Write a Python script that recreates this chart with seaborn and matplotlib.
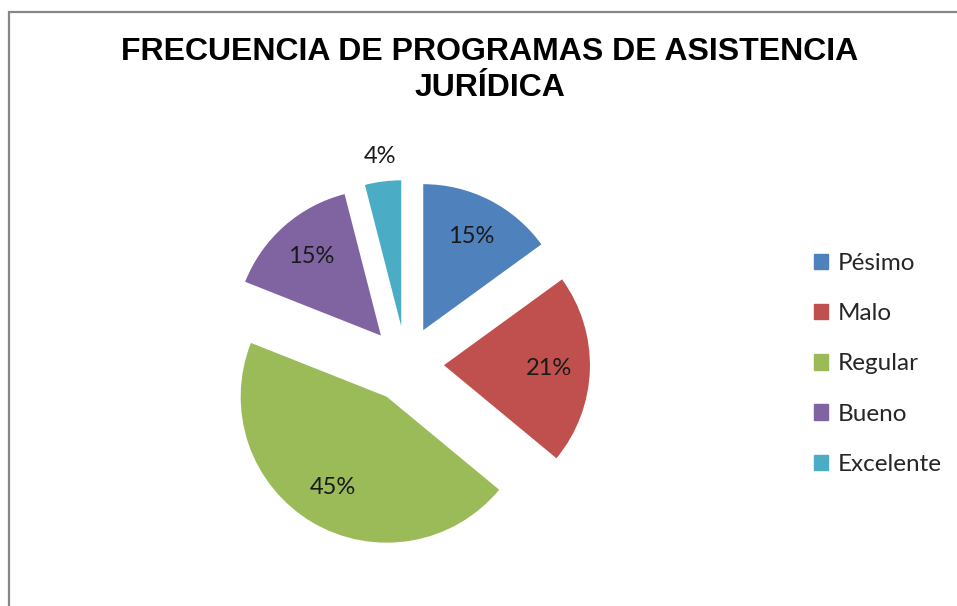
"""Gráfico circular: frecuencia de programas de asistencia jurídica."""

import matplotlib

matplotlib.use("Agg")
import matplotlib.pyplot as plt
import numpy as np
import seaborn as sns
from matplotlib.patches import Rectangle

CATEGORIES = ["Pésimo", "Malo", "Regular", "Bueno", "Excelente"]
PERCENTS = [15, 21, 45, 15, 4]
COLORS = ["#4F81BD", "#C0504D", "#9BBB59", "#8064A2", "#4BACC6"]
TITLE = "FRECUENCIA DE PROGRAMAS DE ASISTENCIA\nJURÍDICA"

W, H = 957, 606
R_PX = 146          # radio del círculo en píxeles
CX, CY = 406, 364   # centro (desde arriba)
LIM = 1.6

sns.set_theme(style="white")
plt.rcParams["font.family"] = ["Lato", "DejaVu Sans"]

fig = plt.figure(figsize=(W / 100, H / 100), dpi=100)
fig.patch.set_facecolor("white")

side = 2 * LIM * R_PX
ax = fig.add_axes([(CX - side / 2) / W, (H - CY - side / 2) / H, side / W, side / H])

wedges, autotexts = ax.pie(
    PERCENTS,
    colors=COLORS,
    explode=[0.26] * len(PERCENTS),
    startangle=90,
    counterclock=False,
    autopct=lambda p: f"{p:.0f}%",
    pctdistance=0.72,
    textprops={"fontsize": 17, "color": "#1a1a1a"},
    wedgeprops={"linewidth": 0},
)[::2]
ax.set_xlim(-LIM, LIM)
ax.set_ylim(-LIM, LIM)
ax.set_aspect("equal")
ax.axis("off")

# la porción pequeña lleva su etiqueta fuera del sector
small = wedges[-1]
mid = np.deg2rad((small.theta1 + small.theta2) / 2)
cx, cy = small.center
autotexts[-1].set_position((cx + 1.17 * np.cos(mid), cy + 1.17 * np.sin(mid)))

fig.text(490 / W, 1 - 70 / H, TITLE, ha="center", va="center",
         fontsize=23, fontweight="bold", family="Liberation Sans",
         linespacing=1.3, color="black")

handles = [Rectangle((0, 0), 1, 1, color=c) for c in COLORS]
fig.legend(handles, CATEGORIES, loc="center left",
           bbox_to_anchor=(792 / W, 1 - 364 / H), frameon=False,
           fontsize=17.5, handlelength=0.6, handleheight=0.6,
           handletextpad=0.4, labelspacing=1.2)

fig.patches.append(Rectangle((9 / W, -0.1), 1.2, 1 - 12 / H + 0.1,
                             transform=fig.transFigure, fill=False,
                             edgecolor="#878787", linewidth=1.6))

fig.savefig("out.png", dpi=100)
